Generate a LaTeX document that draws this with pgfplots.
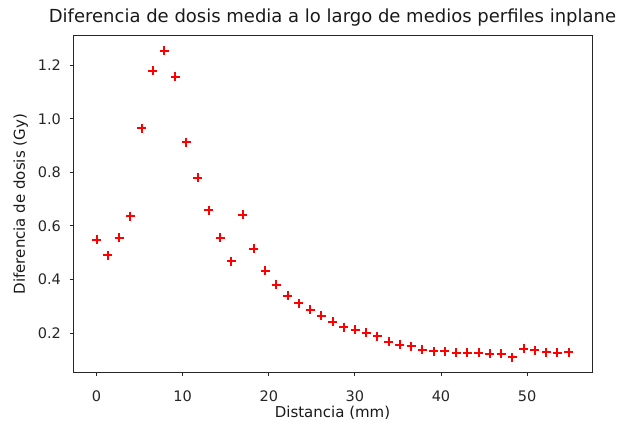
\documentclass[border=0pt]{standalone}
\usepackage{pgfplots}
\pgfplotsset{compat=1.18}
\usepackage{fontspec}
\setmainfont{DejaVu Sans}
\begin{document}
\begin{tikzpicture}[x=1pt,y=1pt]
\path[use as bounding box] (0,0) rectangle (620,423);
\begin{axis}[
 at={(73pt,50.3pt)}, anchor=south west,
 scale only axis, width=519pt, height=337pt,
 xmin=-2.74, xmax=57.54, ymin=0.052, ymax=1.310,
 xtick={0,10,20,30,40,50}, ytick={0.2,0.4,0.6,0.8,1.0,1.2},
 tick pos=left, tick align=outside, major tick length=3.5pt,
 axis line style={line width=0.8pt, black!85},
 every tick/.style={line width=0.8pt, black!85},
 /pgf/number format/assume math mode=true,
 ticklabel style={font=\fontsize{14.5}{16}\selectfont, text=black!85},
 xticklabel style={anchor=base, yshift=-25.5pt},
 yticklabel style={anchor=east, xshift=-5pt, /pgf/number format/fixed, /pgf/number format/fixed zerofill, /pgf/number format/precision=1},
 title={Diferencia de dosis media a lo largo de medios perfiles inplane},
 title style={font=\fontsize{18}{20}\selectfont, at={(0.5,1)}, anchor=base, yshift=7pt, text=black!90},
 xlabel={Distancia (mm)}, ylabel={Diferencia de dosis (Gy)},
 label style={font=\fontsize{15}{17}\selectfont, text=black!90},
 xlabel style={at={(0.5,0)}, anchor=base, yshift=-44.8pt},
 ylabel style={at={(0,0.5)}, anchor=center, yshift=52.3pt},
]
\addplot[only marks, mark=+, mark size=4.5pt, red, mark options={line width=2pt}] coordinates {
(0,0.549) (1.305,0.490) (2.61,0.555) (3.915,0.636) (5.22,0.965)
(6.525,1.179) (7.83,1.253) (9.135,1.156) (10.44,0.912) (11.745,0.779)
(13.05,0.659) (14.355,0.555) (15.66,0.468) (16.965,0.641) (18.27,0.514)
(19.575,0.433) (20.88,0.381) (22.185,0.340) (23.49,0.311) (24.795,0.287)
(26.1,0.265) (27.405,0.243) (28.71,0.222) (30.015,0.213) (31.32,0.201)
(32.625,0.188) (33.93,0.167) (35.235,0.157) (36.54,0.150) (37.845,0.138)
(39.15,0.132) (40.455,0.132) (41.76,0.126) (43.065,0.126) (44.37,0.126)
(45.675,0.122) (46.98,0.122) (48.285,0.109) (49.59,0.142) (50.895,0.135)
(52.2,0.129) (53.505,0.126) (54.81,0.129)
};
\end{axis}
\end{tikzpicture}
\end{document}
